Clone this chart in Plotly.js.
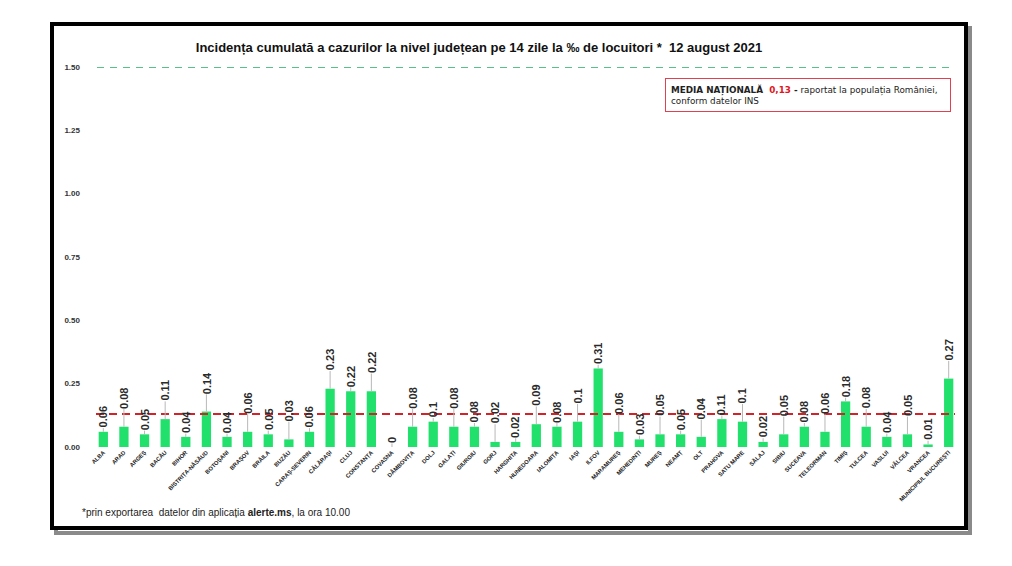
<!DOCTYPE html>
<html>
<head>
<meta charset="utf-8">
<script src="https://cdn.plot.ly/plotly-3.0.1.min.js"></script>
<style>html,body{margin:0;padding:0;background:#fff;}#chart{width:1012px;height:566px;}</style>
</head>
<body>
<div id="chart"></div>
<script>
const counties = ["ALBA","ARAD","ARGEȘ","BACĂU","BIHOR","BISTRIȚA-NĂSĂUD","BOTOȘANI","BRAȘOV","BRĂILA","BUZĂU","CARAȘ-SEVERIN","CĂLĂRAȘI","CLUJ","CONSTANȚA","COVASNA","DÂMBOVIȚA","DOLJ","GALAȚI","GIURGIU","GORJ","HARGHITA","HUNEDOARA","IALOMIȚA","IAȘI","ILFOV","MARAMUREȘ","MEHEDINȚI","MUREȘ","NEAMȚ","OLT","PRAHOVA","SATU MARE","SĂLAJ","SIBIU","SUCEAVA","TELEORMAN","TIMIȘ","TULCEA","VASLUI","VÂLCEA","VRANCEA","MUNICIPIUL BUCUREȘTI"];
const incidence = [0.06,0.08,0.05,0.11,0.04,0.14,0.04,0.06,0.05,0.03,0.06,0.23,0.22,0.22,0,0.08,0.1,0.08,0.08,0.02,0.02,0.09,0.08,0.1,0.31,0.06,0.03,0.05,0.05,0.04,0.11,0.1,0.02,0.05,0.08,0.06,0.18,0.08,0.04,0.05,0.01,0.27];
const nationalAverage = 0.13;
const threshold = 1.5;
const yTicks = [0,0.25,0.5,0.75,1.0,1.25,1.5];
const yTickText = ["0.00","0.25","0.50","0.75","1.00","1.25","1.50"];
const titleText = "Incidența cumulată a cazurilor la nivel județean pe 14 zile la ‰ de locuitori *  12 august 2021";
const noteText = "*prin exportarea  datelor din aplicația <b>alerte.ms</b>, la ora 10.00";
const boxText = "<b>MEDIA NAȚIONALĂ  <span style='color:#e0161e'>0,13</span> -</b> raportat la populația României,<br>conform datelor INS";

const W = 1012, H = 566;
const L = 93, R = 53, T = 67, B = 119;
const pw = W - L - R, ph = H - T - B;
const px = x => (x - L) / pw;
const py = y => (H - B - y) / ph;

const labelSize = 11;
const textLen = s => s.split('').reduce((a, ch) => a + (ch === '.' ? 0.278 : 0.556) * labelSize, 0);

const annotations = counties.map((c, i) => {
  const s = String(incidence[i]);
  const gap = (i % 2 === 1) ? 16 : 2;
  return {
    x: c, y: incidence[i], xref: 'x', yref: 'y',
    text: s, textangle: -90,
    showarrow: true, arrowhead: 0, arrowwidth: 1, arrowcolor: '#b8b8b8',
    ax: 0, ay: -(gap + textLen(s) / 2 + 2), borderpad: 0,
    font: {family: 'Liberation Sans, Arial, sans-serif', size: labelSize, color: '#2a2a2a', weight: 'bold'}
  };
});

annotations.push({
  xref: 'paper', yref: 'paper', x: px(665), y: py(78), xanchor: 'left', yanchor: 'top',
  text: boxText, showarrow: false, align: 'left',
  bordercolor: '#e04050', borderwidth: 1, borderpad: 5, bgcolor: '#fff',
  width: 274,
  font: {family: 'DejaVu Sans, Verdana, sans-serif', size: 8.8, color: '#222'}
});
annotations.push({
  xref: 'paper', yref: 'paper', x: px(80), y: py(512), xanchor: 'left', yanchor: 'middle',
  text: noteText, showarrow: false,
  font: {family: 'Liberation Sans, Arial, sans-serif', size: 10, color: '#222'}
});

const shapes = [
  {type: 'rect', xref: 'paper', yref: 'paper', x0: px(56), x1: px(970), y0: py(28), y1: py(533),
   line: {color: '#8a8a8a', width: 4}, layer: 'below'},
  {type: 'rect', xref: 'paper', yref: 'paper', x0: px(52), x1: px(966), y0: py(24), y1: py(528),
   line: {color: '#000', width: 4}, fillcolor: '#fff', layer: 'below'},
  {type: 'line', xref: 'paper', yref: 'y', x0: px(97), x1: px(952), y0: threshold, y1: threshold,
   line: {color: '#1fae62', width: 1.6, dash: '7px,6px'}},
  {type: 'line', xref: 'paper', yref: 'y', x0: px(96), x1: px(955), y0: nationalAverage, y1: nationalAverage,
   line: {color: '#d4222a', width: 2, dash: '8px,5px'}}
];

const trace = {
  type: 'bar', x: counties, y: incidence,
  marker: {color: '#22e06c'}, width: 0.45, hoverinfo: 'x+y'
};

const layout = {
  width: W, height: H,
  margin: {l: L, r: R, t: T, b: B},
  paper_bgcolor: '#fff', plot_bgcolor: 'rgba(0,0,0,0)',
  showlegend: false,
  title: {text: '<b>' + titleText + '</b>', xref: 'paper', x: px(479), y: 1 - 47 / H, yref: 'container',
          xanchor: 'center', yanchor: 'middle',
          font: {family: 'Liberation Sans, Arial, sans-serif', size: 13, color: '#111'}},
  xaxis: {type: 'category', showgrid: false, zeroline: false, showline: false, ticks: '',
          tickangle: -45, tickfont: {family: 'Liberation Sans, Arial, sans-serif', size: 5.8, color: '#222', weight: 'bold'},
          automargin: false, range: [-0.5, counties.length - 0.5]},
  yaxis: {range: [0, 1.5], tickvals: yTicks, ticktext: yTickText, showgrid: false, zeroline: false, showline: false,
          ticks: '', ticklabelstandoff: 12,
          tickfont: {family: 'Liberation Sans, Arial, sans-serif', size: 8, color: '#333', weight: 'bold'}, automargin: false},
  annotations: annotations,
  shapes: shapes
};

Plotly.newPlot('chart', [trace], layout, {displayModeBar: false, staticPlot: true});
</script>
</body>
</html>
